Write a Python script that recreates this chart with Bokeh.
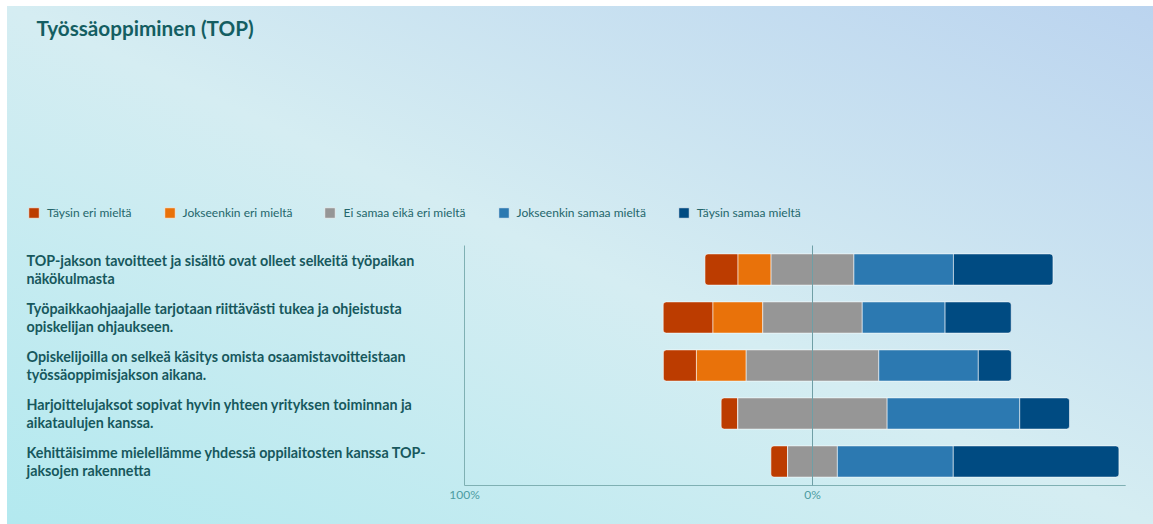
from bokeh.plotting import figure
from bokeh.models import Range1d, Label, Legend, LegendItem, ColumnDataSource
from bokeh.embed import file_html
from bokeh.resources import INLINE

title_text = "Työssäoppiminen (TOP)"
categories = [
    "TOP-jakson tavoitteet ja sisältö ovat olleet selkeitä työpaikan\nnäkökulmasta",
    "Työpaikkaohjaajalle tarjotaan riittävästi tukea ja ohjeistusta\nopiskelijan ohjaukseen.",
    "Opiskelijoilla on selkeä käsitys omista osaamistavoitteistaan\ntyössäoppimisjakson aikana.",
    "Harjoittelujaksot sopivat hyvin yhteen yrityksen toiminnan ja\naikataulujen kanssa.",
    "Kehittäisimme mielellämme yhdessä oppilaitosten kanssa TOP-\njaksojen rakennetta",
]
series_names = ["Täysin eri mieltä", "Jokseenkin eri mieltä", "Ei samaa eikä eri mieltä",
                "Jokseenkin samaa mieltä", "Täysin samaa mieltä"]
taysin_eri = [9.5, 14.3, 9.5, 4.8, 4.8]
jokseenkin_eri = [9.5, 14.3, 14.3, 0.0, 0.0]
ei_samaa_eika_eri = [23.8, 28.6, 38.1, 42.9, 14.3]
jokseenkin_samaa = [28.6, 23.8, 28.6, 38.1, 33.3]
taysin_samaa = [28.6, 19.0, 9.5, 14.3, 47.6]
colors = ["#bc3c00", "#e9720a", "#969696", "#2c79b1", "#004b82"]
tick_values = [-100, 0]
tick_labels = ["100%", "0%"]
axis_min, axis_max = -100, 90

FONT = "Lato"
TEAL = "#17585d"
AXIS = "#7fb0b3"

series = [taysin_eri, jokseenkin_eri, ei_samaa_eika_eri, jokseenkin_samaa, taysin_samaa]
n = len(categories)
ys = [n - i - 0.5 for i in range(n)]

# layout (pixels)
W, H = 1153, 524
PX = 3.48            # pixels per percent
X_ZERO = 812         # pixel of 0 %
ROW = 48             # pixels per category row
Y_BASE = 485         # pixel (from top) of the x axis line

p = figure(width=W, height=H, output_backend="svg", toolbar_location=None,
           x_range=Range1d(-X_ZERO / PX, (W - X_ZERO) / PX),
           y_range=Range1d(-(H - Y_BASE) / ROW, Y_BASE / ROW),
           x_axis_location=None, y_axis_location=None,
           min_border=0)
p.styles = {
    "background-color": "white",
    "background-image": "linear-gradient(to top right, #b3e9ef 0%, #d5edf2 50%, #bbd4ef 100%)",
    "background-position": "7px 6px",
    "background-size": "1146px 518px",
    "background-repeat": "no-repeat",
}
p.background_fill_alpha = 0
p.border_fill_alpha = 0
p.outline_line_color = None
p.grid.visible = False

# axis lines
p.segment(x0=[axis_min, axis_min], y0=[0, 0], x1=[axis_max, axis_min], y1=[0, n],
          line_color=AXIS, line_width=1)

# bars
legend_items = []
for k, vals in enumerate(series):
    lefts, rights = [], []
    for i in range(n):
        start = -(taysin_eri[i] + jokseenkin_eri[i] + ei_samaa_eika_eri[i] / 2.0)
        left = start + sum(series[j][i] for j in range(k))
        lefts.append(left)
        rights.append(left + vals[i])
    src = ColumnDataSource(dict(y=ys, left=lefts, right=rights))
    radius = 0
    if k == 0:
        radius = (3, 0, 0, 3)
    elif k == len(series) - 1:
        radius = (0, 3, 3, 0)
    r = p.hbar(y="y", left="left", right="right", height=0.65, source=src,
               fill_color=colors[k], line_color="white", line_alpha=0.55, line_width=1,
               border_radius=radius)
    legend_items.append(LegendItem(label=series_names[k], renderers=[r]))

# zero line
p.segment(x0=[0], y0=[0], x1=[0], y1=[n], line_color="#6f9fa6", line_width=1)

# tick labels
p.text(x=tick_values, y=[-0.19] * len(tick_values), text=tick_labels,
       text_align="center", text_baseline="middle", text_font={"value": FONT},
       text_font_size="12px", text_color="#4d9ca2")

# category labels
for i, cat in enumerate(categories):
    p.add_layout(Label(x=26, x_units="screen", y=ys[i], y_units="data", text=cat,
                       text_align="left", text_baseline="middle", text_font=FONT,
                       text_font_style="bold", text_font_size="14.3px", text_color=TEAL,
                       text_line_height=1.1))

# title
p.add_layout(Label(x=36, x_units="screen", y=H - 27, y_units="screen", text=title_text,
                   text_align="left", text_baseline="middle", text_font=FONT,
                   text_font_style="bold", text_font_size="20.7px", text_color="#145e62"))

legend = Legend(items=legend_items, orientation="horizontal", location=(27, H - 220),
                glyph_width=13, glyph_height=13, label_standoff=7, spacing=31,
                padding=0, margin=0, background_fill_alpha=0, border_line_color=None,
                label_text_font=FONT, label_text_font_size="12px", label_text_color="#23666b")
p.add_layout(legend, "center")

open("out.html", "w").write(file_html(p, INLINE))
